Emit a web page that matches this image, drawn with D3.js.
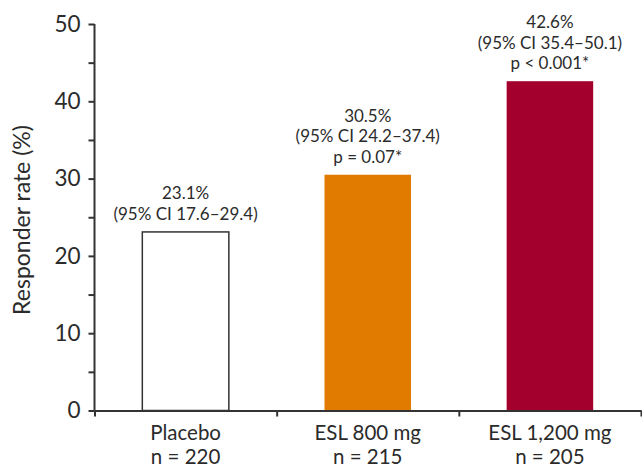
<!DOCTYPE html>
<html>
<head>
<meta charset="utf-8">
<script src="https://cdn.jsdelivr.net/npm/d3@7"></script>
<style>
  body { margin: 0; background: #fff; }
  svg text { font-family: Lato, "Open Sans", sans-serif; fill: #2b2b2b; }
</style>
</head>
<body>
<svg id="chart" width="642" height="470"></svg>
<script>
// data
const groups = ["Placebo", "ESL 800 mg", "ESL 1,200 mg"];
const nLabels = ["n = 220", "n = 215", "n = 205"];
const rates = [23.1, 30.5, 42.6];
const ciLabels = ["(95% CI 17.6–29.4)", "(95% CI 24.2–37.4)", "(95% CI 35.4–50.1)"];
const pLabels = [null, "p = 0.07*", "p < 0.001*"];
const barColors = ["#ffffff", "#e07b00", "#a3002e"];
const yTicks = [0, 5, 10, 15, 20, 25, 30, 35, 40, 45, 50];

const svg = d3.select("#chart");
const plotLeft = 94.5, plotRight = 641, plotTop = 24, plotBottom = 410.5;

const y = d3.scaleLinear().domain([0, 50]).range([plotBottom, plotTop]);
const x = d3.scaleBand().domain(groups).range([plotLeft, plotRight])
    .paddingInner(0.525).paddingOuter(0.2625);

// bars
svg.append("g").selectAll("rect")
    .data(groups)
    .join("rect")
    .attr("x", d => x(d))
    .attr("y", (d, i) => y(rates[i]))
    .attr("width", x.bandwidth())
    .attr("height", (d, i) => y(0) - y(rates[i]))
    .attr("fill", (d, i) => barColors[i])
    .attr("stroke", (d, i) => i === 0 ? "#333" : "none")
    .attr("stroke-width", 1.5);

// value labels above bars
groups.forEach((g, i) => {
    const lines = [rates[i].toFixed(1) + "%", ciLabels[i]];
    if (pLabels[i]) lines.push(pLabels[i]);
    const cx = x(g) + x.bandwidth() / 2;
    const lastBase = y(rates[i]) - 12;
    svg.append("text")
        .attr("text-anchor", "middle")
        .style("font-size", "17px")
        .selectAll("tspan")
        .data(lines)
        .join("tspan")
        .attr("x", cx)
        .attr("y", (d, j) => lastBase - (lines.length - 1 - j) * 20.5)
        .text(d => d);
});

// y axis
const yAxis = svg.append("g")
    .attr("transform", `translate(${plotLeft},0)`)
    .call(d3.axisLeft(y).tickValues(yTicks).tickSize(6).tickPadding(8)
        .tickFormat(d => d % 10 === 0 ? d : ""));
yAxis.select(".domain").attr("stroke", "#333").attr("stroke-width", 2)
    .attr("d", `M0,${plotTop}V${plotBottom}`);
yAxis.selectAll(".tick line").attr("stroke", "#333").attr("stroke-width", 2);
yAxis.selectAll(".tick text").style("font-size", "22.5px").attr("fill", "#2b2b2b");

// x axis: ticks on band boundaries
const xb = d3.scaleLinear().domain([0, groups.length]).range([plotLeft, plotRight]);
const xAxis = svg.append("g")
    .attr("transform", `translate(0,${plotBottom})`)
    .call(d3.axisBottom(xb).tickValues(d3.range(groups.length + 1))
        .tickSize(6).tickSizeOuter(0).tickFormat(""));
xAxis.select(".domain").attr("stroke", "#333").attr("stroke-width", 2);
xAxis.selectAll(".tick line").attr("stroke", "#333").attr("stroke-width", 2);

// category labels, two lines each
groups.forEach((g, i) => {
    const cx = x(g) + x.bandwidth() / 2;
    svg.append("text")
        .attr("x", cx).attr("y", 440)
        .attr("text-anchor", "middle")
        .style("font-size", "20.5px")
        .text(g);
    svg.append("text")
        .attr("x", cx).attr("y", 464)
        .attr("text-anchor", "middle")
        .style("font-size", "20.5px")
        .text(nLabels[i]);
});

// y axis title
svg.append("text")
    .attr("transform", "translate(30,220) rotate(-90)")
    .attr("text-anchor", "middle")
    .style("font-size", "23px")
    .text("Responder rate (%)");
</script>
</body>
</html>
